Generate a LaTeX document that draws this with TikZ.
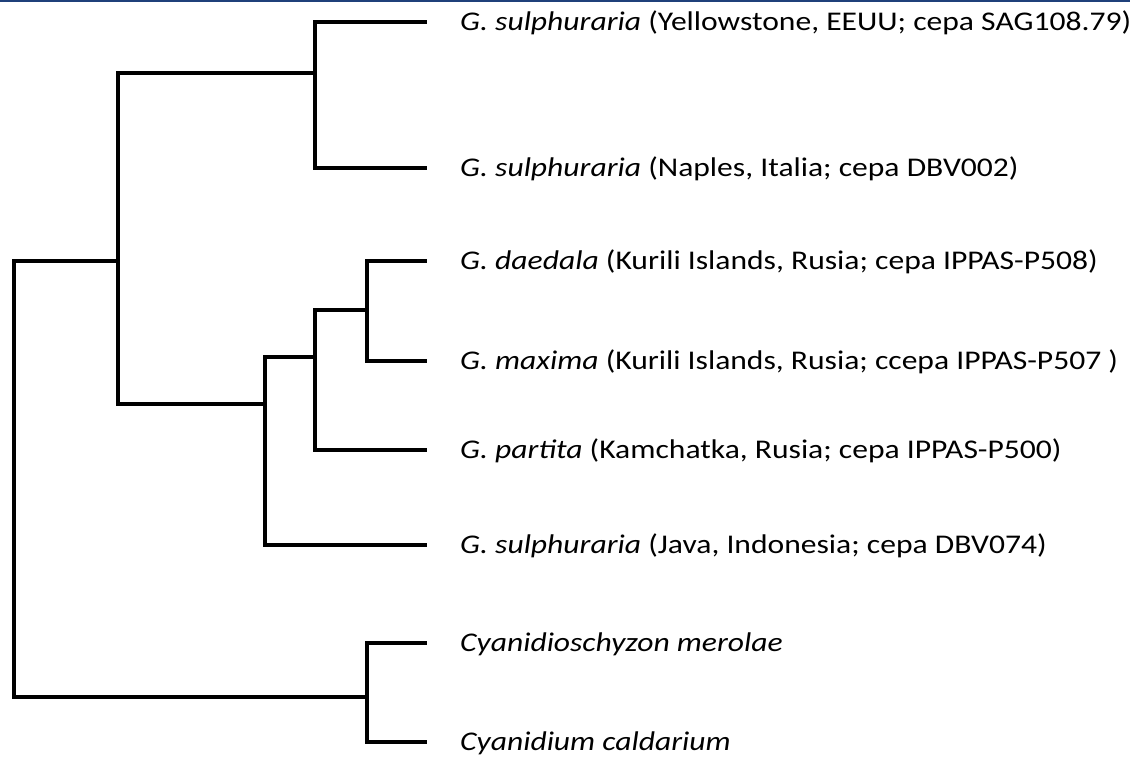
\documentclass[tikz,border=0pt]{standalone}
\usepackage{fontspec}
\setmainfont{Carlito}[FakeStretch=1.17]
\usetikzlibrary{positioning}
\definecolor{barblue}{RGB}{31,64,122}

\begin{document}
\begin{tikzpicture}[x=1pt,y=-1pt,
    branch/.style={line width=3.2pt},
    taxon/.style={anchor=base west,yshift=-8.7pt,inner sep=0pt,font=\fontsize{27}{32}\selectfont}]
      \useasboundingbox (0,0) rectangle (1130,757);
      \fill[barblue] (0,0) rectangle (1130,2.5);

      \coordinate (t1) at (427,22);
      \coordinate (t2) at (427,168);
      \coordinate (t3) at (427,261);
      \coordinate (t4) at (427,361);
      \coordinate (t5) at (427,450);
      \coordinate (t6) at (427,545);
      \coordinate (t7) at (427,643);
      \coordinate (t8) at (427,742);

      \node[right=33pt of t1,taxon] (1) {\textit{G. sulphuraria} (Yellowstone, EEUU; cepa SAG108.79)};
      \node[right=33pt of t2,taxon] (2) {\textit{G. sulphuraria} (Naples, Italia; cepa DBV002)};
      \node[right=33pt of t3,taxon] (3) {\textit{G. daedala} (Kurili Islands, Rusia; cepa IPPAS-P508)};
      \node[right=33pt of t4,taxon] (4) {\textit{G. maxima} (Kurili Islands, Rusia; ccepa IPPAS-P507 )};
      \node[right=33pt of t5,taxon] (5) {\textit{G. partita} (Kamchatka, Rusia; cepa IPPAS-P500)};
      \node[right=33pt of t6,taxon] (6) {\textit{G. sulphuraria} (Java, Indonesia; cepa DBV074)};
      \node[right=33pt of t7,taxon] (7) {\textit{Cyanidioschyzon merolae}};
      \node[right=33pt of t8,taxon] (8) {\textit{Cyanidium caldarium}};

      \coordinate (A) at (315,73);
      \coordinate (B) at (367,310);
      \coordinate (C) at (315,357);
      \coordinate (D) at (265,404);
      \coordinate (E) at (118,261);
      \coordinate (F) at (367,697);
      \coordinate (R) at (14,479);

      \draw[branch] (A) |- (t1);
      \draw[branch] (A) |- (t2);
      \draw[branch] (B) |- (t3);
      \draw[branch] (B) |- (t4);
      \draw[branch] (C) |- (B);
      \draw[branch] (C) |- (t5);
      \draw[branch] (D) |- (C);
      \draw[branch] (D) |- (t6);
      \draw[branch] (E) |- (A);
      \draw[branch] (E) |- (D);
      \draw[branch] (F) |- (t7);
      \draw[branch] (F) |- (t8);
      \draw[branch] (R) |- (E);
      \draw[branch] (R) |- (F);
    \end{tikzpicture}
\end{document}
